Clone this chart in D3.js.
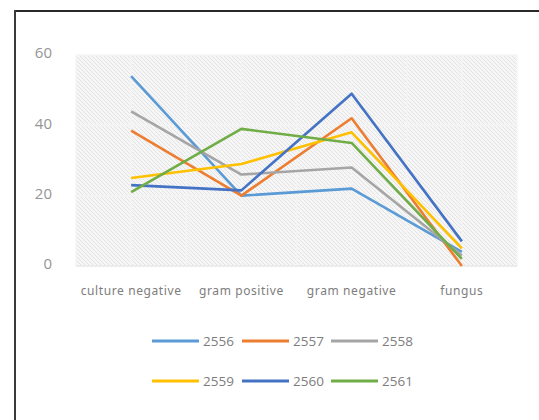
<!DOCTYPE html>
<html>
<head>
<meta charset="utf-8">
<script src="https://cdn.jsdelivr.net/npm/d3@7"></script>
<style>
  html, body { margin: 0; padding: 0; background: #fff; }
  svg { display: block; }
</style>
</head>
<body>
<svg id="chart" width="539" height="420"></svg>
<script>
// Categories along the x axis
const categories = ["culture negative", "gram positive", "gram negative", "fungus"];
// Years (Buddhist era) shown as series
const years = ["2556", "2557", "2558", "2559", "2560", "2561"];
// Values per year, in category order
const v2556 = [54, 20, 22, 4];
const v2557 = [38.5, 20, 42, 0];
const v2558 = [44, 26, 28, 3];
const v2559 = [25, 29, 38, 5];
const v2560 = [23, 21.5, 49, 7];
const v2561 = [21, 39, 35, 2];
const yTicks = [0, 20, 40, 60];
const colors = ["#5B9BD5", "#ED7D31", "#A5A5A5", "#FFC000", "#4472C4", "#70AD47"];

const seriesValues = [v2556, v2557, v2558, v2559, v2560, v2561];
const series = years.map((y, i) => ({ name: y, values: seriesValues[i], color: colors[i] }));

const svg = d3.select("#chart");

// Frame lines along the top and left
svg.append("line").attr("x1", 14).attr("x2", 539).attr("y1", 11).attr("y2", 11)
  .attr("stroke", "#2a2a2a").attr("stroke-width", 2.2);
svg.append("line").attr("x1", 15).attr("x2", 15).attr("y1", 10).attr("y2", 420)
  .attr("stroke", "#3a3a3a").attr("stroke-width", 2);

const plotLeft = 76, plotRight = 517, plotTop = 55, plotBottom = 266;

const x = d3.scaleBand().domain(categories).range([plotLeft, plotRight]).padding(0);
const y = d3.scaleLinear().domain([0, 60]).range([plotBottom, plotTop]);
const cx = c => x(c) + x.bandwidth() / 2;

// Diagonal hatch fill for the plot area
const defs = svg.append("defs");
const pat = defs.append("pattern").attr("id", "hatch")
  .attr("patternUnits", "userSpaceOnUse").attr("width", 4).attr("height", 4);
pat.append("rect").attr("width", 4).attr("height", 4).attr("fill", "#f6f6f6");
pat.append("path").attr("d", "M-1,-1 L5,5 M-1,3 L1,5 M3,-1 L5,1")
  .attr("stroke", "#e3e3e3").attr("stroke-width", 1);

svg.append("rect").attr("x", plotLeft).attr("y", plotTop)
  .attr("width", plotRight - plotLeft).attr("height", plotBottom - plotTop)
  .attr("fill", "url(#hatch)");

// Gridlines: horizontal at ticks, vertical at band edges and centres
const grid = svg.append("g").attr("stroke", "#f4f4f4").attr("stroke-width", 1.5);
yTicks.forEach(t => {
  grid.append("line").attr("x1", plotLeft).attr("x2", plotRight)
    .attr("y1", y(t)).attr("y2", y(t));
});
const vx = [];
categories.forEach(c => { vx.push(x(c)); vx.push(cx(c)); });
vx.push(plotRight);
vx.forEach(px => {
  grid.append("line").attr("x1", px).attr("x2", px).attr("y1", plotTop).attr("y2", plotBottom);
});
svg.append("line").attr("x1", plotLeft).attr("x2", plotRight).attr("y1", y(0)).attr("y2", y(0))
  .attr("stroke", "#e2e2e2").attr("stroke-width", 1);

// Y axis labels
const yAxis = d3.axisLeft(y).tickValues(yTicks).tickSize(0).tickPadding(0);
const ya = svg.append("g").attr("transform", "translate(52,-2)").call(yAxis);
ya.select(".domain").remove();
ya.selectAll("text").attr("fill", "#959595")
  .style("font-family", "'Open Sans', 'Noto Sans', sans-serif").style("font-size", "15px");

// X axis labels
const xAxis = d3.axisBottom(x).tickSize(0).tickPadding(0);
const xa = svg.append("g").attr("transform", `translate(0,${plotBottom + 20})`).call(xAxis);
xa.select(".domain").remove();
xa.selectAll("text").attr("fill", "#7d7d7d")
  .style("font-family", "'Noto Sans', sans-serif").style("font-size", "12px")
  .style("letter-spacing", "0.6px");

// Series lines
const line = d3.line().x((d, i) => cx(categories[i])).y(d => y(d));
svg.append("g").selectAll("path").data(series).join("path")
  .attr("d", d => line(d.values))
  .attr("fill", "none")
  .attr("stroke", d => d.color)
  .attr("stroke-width", 2.6)
  .attr("stroke-linejoin", "round");

// Legend: two rows of three
const legend = svg.append("g");
const colX = [152, 242, 331];
const rowY = [341, 381];
series.forEach((s, i) => {
  const gx = colX[i % 3], gy = rowY[Math.floor(i / 3)];
  legend.append("line").attr("x1", gx).attr("x2", gx + 47)
    .attr("y1", gy).attr("y2", gy)
    .attr("stroke", s.color).attr("stroke-width", 3);
  legend.append("text").attr("x", gx + 51).attr("y", gy)
    .attr("dy", "0.35em").attr("fill", "#7d7d7d")
    .style("font-family", "'Open Sans', 'Noto Sans', sans-serif").style("font-size", "13.5px")
    .text(s.name);
});
</script>
</body>
</html>
